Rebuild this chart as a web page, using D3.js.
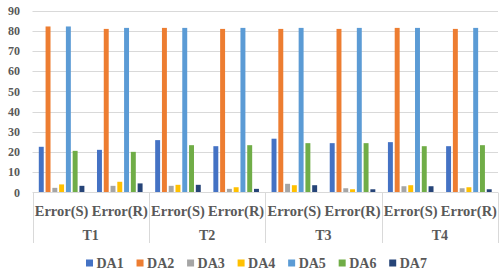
<!DOCTYPE html>
<html>
<head>
<meta charset="utf-8">
<title>DA error chart</title>
<script src="https://d3js.org/d3.v7.min.js"></script>
<style>
  body { margin: 0; background: #fff; }
  text { font-family: "Liberation Serif", "Times New Roman", serif; font-weight: bold; }
</style>
</head>
<body>
<script>
// data
var groups = ["T1", "T2", "T3", "T4"];
var subcats = ["Error(S)", "Error(R)"];
var series = ["DA1", "DA2", "DA3", "DA4", "DA5", "DA6", "DA7"];
var colors = ["#4472C4", "#ED7D31", "#A5A5A5", "#FFC000", "#5B9BD5", "#70AD47", "#264478"];
var yTicks = [0, 10, 20, 30, 40, 50, 60, 70, 80, 90];

// one entry per category (T1 S, T1 R, T2 S, ...), one array per series
var DA1 = [22.6, 21.1, 25.9, 22.9, 26.6, 24.4, 24.9, 22.9];
var DA2 = [82.1, 80.9, 81.4, 80.9, 80.9, 80.9, 81.4, 80.9];
var DA3 = [2.3, 3.3, 3.3, 1.8, 4.3, 2.1, 3.1, 2.1];
var DA4 = [4.0, 5.3, 3.8, 2.6, 3.6, 1.6, 3.6, 2.6];
var DA5 = [82.1, 81.4, 81.4, 81.4, 81.4, 81.4, 81.4, 81.4];
var DA6 = [20.6, 20.1, 23.4, 23.4, 24.4, 24.4, 22.9, 23.4];
var DA7 = [3.3, 4.5, 3.8, 1.8, 3.6, 1.6, 3.1, 1.6];
var values = [DA1, DA2, DA3, DA4, DA5, DA6, DA7];

var W = 503, H = 275;
var plotL = 32.5, plotR = 498, plotT = 10.5, plotB = 192.5;

var svg = d3.select("body").append("svg")
  .attr("width", W)
  .attr("height", H);

// categories
var cats = [];
groups.forEach(function (g) {
  subcats.forEach(function (s) { cats.push(g + "|" + s); });
});

var x0 = d3.scaleBand().domain(cats).range([plotL, plotR]);
var xg = d3.scaleBand().domain(groups).range([plotL, plotR]);
var x1 = d3.scaleBand().domain(series).range([6.3, x0.bandwidth() - 6.3]).paddingInner(0.27).paddingOuter(0);
var y = d3.scaleLinear().domain([0, 90]).range([plotB, plotT]);

// grid
svg.append("g").selectAll("line")
  .data(yTicks.slice(1))
  .enter().append("line")
  .attr("x1", plotL).attr("x2", plotR)
  .attr("y1", function (d) { return Math.round(y(d)) + 0.5; })
  .attr("y2", function (d) { return Math.round(y(d)) + 0.5; })
  .attr("stroke", "#d9d9d9").attr("stroke-width", 1);

// y tick labels
svg.append("g").selectAll("text")
  .data(yTicks)
  .enter().append("text")
  .attr("x", 20)
  .attr("y", function (d) { return y(d); })
  .attr("dy", "0.35em")
  .attr("text-anchor", "end")
  .attr("font-size", 12)
  .attr("fill", "#595959")
  .text(function (d) { return d; });

// bars
var bars = [];
cats.forEach(function (c, ci) {
  series.forEach(function (s, si) {
    bars.push({ cat: c, s: s, si: si, v: values[si][ci] });
  });
});
svg.append("g").selectAll("rect")
  .data(bars)
  .enter().append("rect")
  .attr("x", function (d) { return x0(d.cat) + x1(d.s); })
  .attr("y", function (d) { return y(d.v); })
  .attr("width", x1.bandwidth())
  .attr("height", function (d) { return y(0) - y(d.v); })
  .attr("fill", function (d) { return colors[d.si]; });

// bottom axis
svg.append("line")
  .attr("x1", plotL).attr("x2", plotR)
  .attr("y1", plotB).attr("y2", plotB)
  .attr("stroke", "#d9d9d9");

var seps = groups.map(function (g) { return xg(g); }).concat([plotR]);
svg.append("g").selectAll("line")
  .data(seps)
  .enter().append("line")
  .attr("x1", function (d) { return Math.round(d) + 0.5; })
  .attr("x2", function (d) { return Math.round(d) + 0.5; })
  .attr("y1", plotB).attr("y2", 243)
  .attr("stroke", "#d9d9d9");

// category labels
svg.append("g").selectAll("text")
  .data(cats)
  .enter().append("text")
  .attr("x", function (d) { return x0(d) + x0.bandwidth() / 2; })
  .attr("y", 215.5)
  .attr("text-anchor", "middle")
  .attr("font-size", 14.5)
  .attr("fill", "#595959")
  .text(function (d) { return d.split("|")[1]; });

svg.append("g").selectAll("text")
  .data(groups)
  .enter().append("text")
  .attr("x", function (d) { return xg(d) + xg.bandwidth() / 2; })
  .attr("y", 239.5)
  .attr("text-anchor", "middle")
  .attr("font-size", 14)
  .attr("fill", "#595959")
  .text(function (d) { return d; });

// legend
var leg = svg.append("g");
var lx = 86;
series.forEach(function (s, i) {
  leg.append("rect")
    .attr("x", lx).attr("y", 259.5)
    .attr("width", 7).attr("height", 7)
    .attr("fill", colors[i]);
  var t = leg.append("text")
    .attr("x", lx + 10.5)
    .attr("y", 268)
    .attr("font-size", 14)
    .attr("fill", "#595959")
    .text(s);
  lx += 10.5 + t.node().getComputedTextLength() + 12.8;
});
</script>
</body>
</html>
